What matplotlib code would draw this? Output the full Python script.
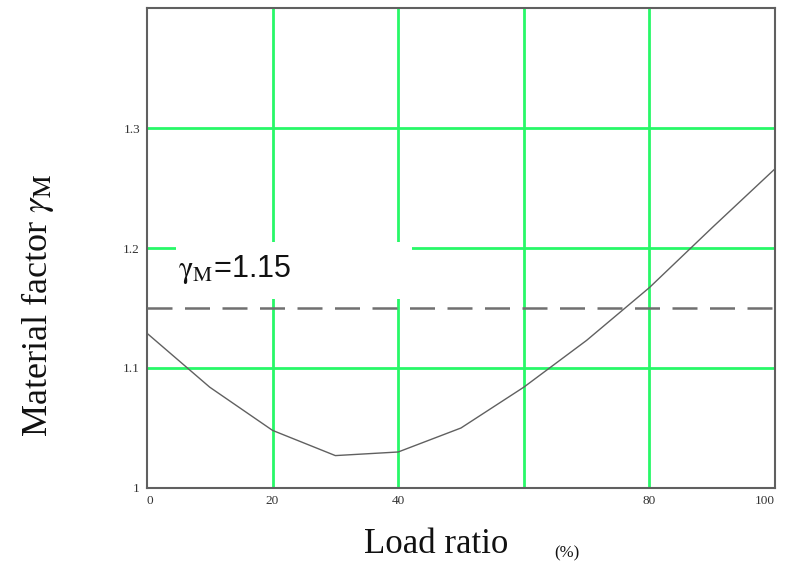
import matplotlib
matplotlib.use("Agg")
import matplotlib.pyplot as plt
from matplotlib.patches import Rectangle

load_ratio = [0, 10, 20, 30, 40, 50, 60, 70, 80, 90, 100]
gamma_m = [1.129, 1.084, 1.048, 1.027, 1.030, 1.050, 1.084, 1.123, 1.167, 1.217, 1.266]
gamma_ref = 1.15
x_ticks = [0, 20, 40, 80, 100]
x_grid = [20, 40, 60, 80]
y_ticks = [1, 1.1, 1.2, 1.3]
y_tick_labels = ["1", "1.1", "1.2", "1.3"]

plt.rcParams['mathtext.fontset'] = 'stix'
serif = 'Liberation Serif'

fig = plt.figure(figsize=(7.9, 5.65), dpi=100)
ax = fig.add_axes([0.186, 0.1363, 0.795, 0.8495])
ax.set_xlim(0, 100)
ax.set_ylim(1, 1.4)

green = '#28f868'
for xg in x_grid:
    ax.axvline(xg, color=green, lw=2, zorder=1)
for yg in y_ticks[1:]:
    ax.axhline(yg, color=green, lw=2, zorder=1)

# white box behind the annotation
ax.add_patch(Rectangle((4.6, 1.1575), 37.6, 0.0475, facecolor='white',
                       edgecolor='none', zorder=2))

ax.axhline(gamma_ref, color='#707070', lw=1.8, dashes=(10, 5), zorder=3)
ax.plot(load_ratio, gamma_m, color='#606060', lw=1.0, zorder=4)

ax.text(5.0, 1.176, r"$\mathrm{\gamma_{M}}$=1.15", fontsize=22,
        family='Liberation Sans', color='#111111', zorder=5)

ax.set_xticks(x_ticks)
ax.set_xticklabels([str(v) for v in x_ticks], family=serif, fontsize=9.5, color='#333333')
ax.set_yticks(y_ticks)
ax.set_yticklabels(y_tick_labels, family=serif, fontsize=9.5, color='#333333')
ax.tick_params(length=0, pad=5)
labs = ax.get_xticklabels()
labs[0].set_horizontalalignment('left')
labs[-1].set_horizontalalignment('right')

for s in ax.spines.values():
    s.set_color('#606060')
    s.set_linewidth(1.5)

fig.text(436 / 790, 1 - 553 / 565, "Load ratio", family=serif, fontsize=25,
         ha='center', va='baseline', color='#111111')
fig.text(567 / 790, 1 - 557 / 565, "(%)", family=serif, fontsize=12,
         ha='center', va='baseline', color='#111111')
fig.text(38 / 790, 1 - 305 / 565, r"Material factor $\gamma_{\mathrm{M}}$", family=serif,
         fontsize=26, rotation=90, ha='center', va='center', color='#111111')

fig.savefig("out.png", dpi=100)
